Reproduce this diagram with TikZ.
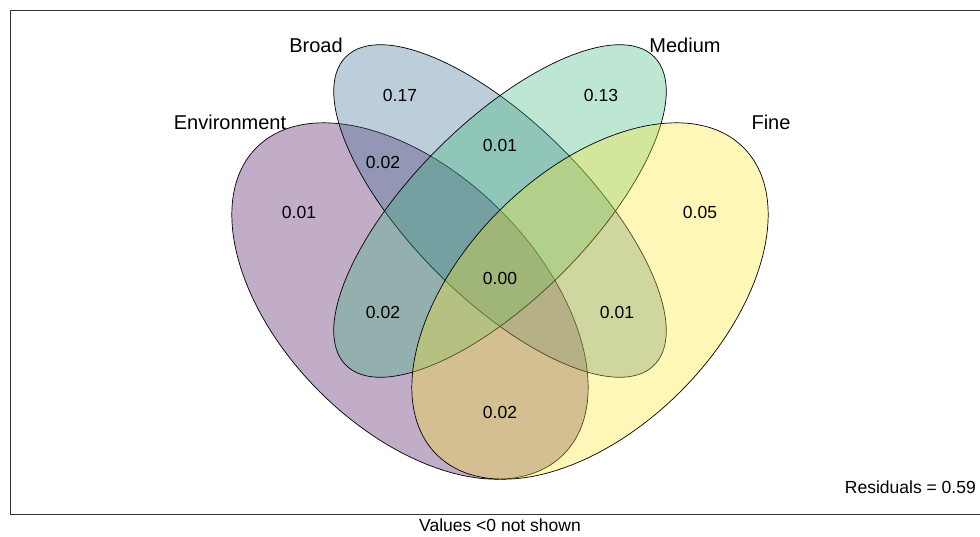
\documentclass[tikz,border=0pt]{standalone}
\usepackage{fontspec}
\setmainfont{Liberation Sans}
\definecolor{vEnv}{HTML}{440154}
\definecolor{vBroad}{HTML}{31688E}
\definecolor{vMed}{HTML}{35B779}
\definecolor{vFine}{HTML}{FDE725}
\begin{document}
\begin{tikzpicture}[x=1pt,y=1pt,
  setshape/.style={draw=black, line width=0.7pt, fill opacity=0.32},
  setlabel/.style={inner sep=0pt, font=\fontsize{20}{24}\selectfont},
  numlabel/.style={inner sep=0pt, font=\fontsize{17.5}{21}\selectfont},
  infolabel/.style={inner sep=0pt, font=\fontsize{17.5}{21}\selectfont}]
\useasboundingbox (0,0) rectangle (980,536);
\fill[white] (0,0) rectangle (980,536);
\draw[line width=0.8pt, draw=black!80] (10,526) rectangle (990,22);
% ellipses
\filldraw[setshape, fill=vEnv] (410,235) ellipse [x radius=217pt, y radius=128pt, rotate=-45];
\filldraw[setshape, fill=vBroad] (500,325) ellipse [x radius=218pt, y radius=88pt, rotate=-45];
\filldraw[setshape, fill=vMed] (500,325) ellipse [x radius=218pt, y radius=88pt, rotate=45];
\filldraw[setshape, fill=vFine] (590,235) ellipse [x radius=217pt, y radius=128pt, rotate=45];
% set labels
\node[setlabel] (lbroad) at (316,491) {Broad};
\node[setlabel] (lmed) at (685,491) {Medium};
\node[setlabel] (lenv) at (230,414) {Environment};
\node[setlabel] (lfine) at (771,414) {Fine};
% values
\node[numlabel] (v1) at (400,441) {0.17};
\node[numlabel] (v2) at (601,441) {0.13};
\node[numlabel] (v3) at (500,391) {0.01};
\node[numlabel] (v4) at (383,374) {0.02};
\node[numlabel] (v5) at (299,324) {0.01};
\node[numlabel] (v6) at (700,324) {0.05};
\node[numlabel] (v7) at (500,258) {0.00};
\node[numlabel] (v8) at (383,224) {0.02};
\node[numlabel] (v9) at (617,224) {0.01};
\node[numlabel] (v10) at (500,124) {0.02};
\node[infolabel, anchor=east] (resid) at (976,49) {Residuals = 0.59};
\node[infolabel] (note) at (500,11) {Values <0 not shown};
\end{tikzpicture}
\end{document}
